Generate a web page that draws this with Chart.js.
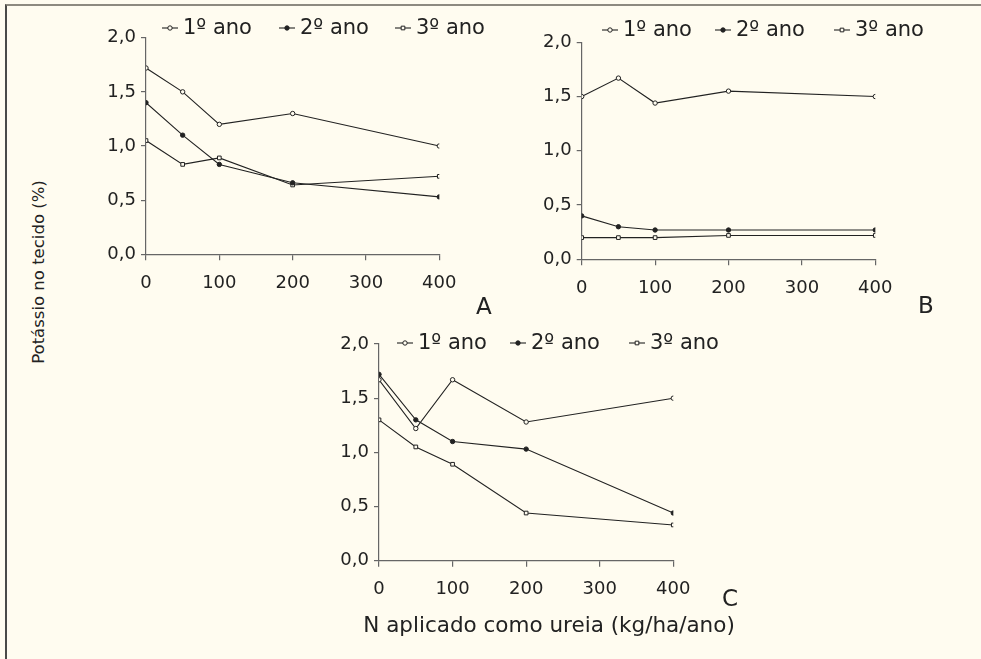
<!DOCTYPE html>
<html>
<head>
<meta charset="utf-8">
<script src="https://cdn.jsdelivr.net/npm/chart.js@4.4.1/dist/chart.umd.min.js"></script>
<style>
  html, body { margin: 0; padding: 0; background: #fffcf0; }
  body { width: 981px; height: 659px; position: relative; overflow: hidden;
         font-family: "DejaVu Sans", sans-serif; color: #222; }
  .frame { position: absolute; left: 5px; top: 4px; width: 1000px; height: 700px;
           border-top: 2px solid #8d8a80; border-left: 2px solid #4a4a48; }
  canvas { position: absolute; }
  .lbl { position: absolute; white-space: nowrap; line-height: 1; }
</style>
</head>
<body>
<div class="frame"></div>
<canvas id="chartA" style="left:90px;top:0px" width="420" height="320"></canvas>
<canvas id="chartB" style="left:520px;top:0px" width="420" height="320"></canvas>
<canvas id="chartC" style="left:310px;top:320px" width="420" height="300"></canvas>

<div class="lbl" style="left:476px;top:295px;font-size:23px">A</div>
<div class="lbl" style="left:918px;top:294px;font-size:23px">B</div>
<div class="lbl" style="left:722px;top:587px;font-size:23px">C</div>
<div class="lbl" style="left:549px;top:625px;font-size:21.5px;transform:translate(-50%,-50%)">N aplicado como ureia (kg/ha/ano)</div>
<div class="lbl" style="left:39px;top:272px;font-size:16.5px;transform:translate(-50%,-50%) rotate(-90deg)">Potássio no tecido (%)</div>

<script>
// doses de N (kg/ha/ano)
const doses = [0, 50, 100, 200, 400];
const seriesNames = ["1º ano", "2º ano", "3º ano"];
const xTicks = [0, 100, 200, 300, 400];
const yTicks = [0, 0.5, 1.0, 1.5, 2.0];

// painel A
const aAno1 = [1.72, 1.50, 1.20, 1.30, 1.00];
const aAno2 = [1.40, 1.10, 0.83, 0.66, 0.53];
const aAno3 = [1.05, 0.83, 0.89, 0.64, 0.72];

// painel B
const bAno1 = [1.50, 1.67, 1.44, 1.55, 1.50];
const bAno2 = [0.40, 0.30, 0.27, 0.27, 0.27];
const bAno3 = [0.20, 0.20, 0.20, 0.22, 0.22];

// painel C
const cAno1 = [1.67, 1.22, 1.67, 1.28, 1.50];
const cAno2 = [1.72, 1.30, 1.10, 1.03, 0.44];
const cAno3 = [1.30, 1.05, 0.89, 0.44, 0.33];

const ink = "#222";
const axisColor = "#666";
const bg = "#fffcf0";
const fontFamily = "'DejaVu Sans', sans-serif";

const markerStyles = [
    { pointStyle: "circle", radius: 2.2, fill: bg },
    { pointStyle: "circle", radius: 2.2, fill: ink },
    { pointStyle: "rect", radius: 2.6, fill: bg }
];

function buildDatasets(values) {
    return values.map((serie, i) => ({
        label: seriesNames[i],
        data: doses.map((d, k) => ({ x: d, y: serie[k] })),
        borderColor: ink,
        borderWidth: 1.1,
        tension: 0,
        pointStyle: markerStyles[i].pointStyle,
        pointRadius: markerStyles[i].radius,
        pointBackgroundColor: markerStyles[i].fill,
        pointBorderColor: ink,
        pointBorderWidth: 1
    }));
}

// legenda desenhada no canvas: traço curto com o marcador no meio
const lineLegend = {
    id: "lineLegend",
    afterDraw(chart, args, opts) {
        const ctx = chart.ctx;
        ctx.save();
        ctx.font = "21px " + fontFamily;
        ctx.textBaseline = "middle";
        ctx.textAlign = "left";
        chart.data.datasets.forEach((ds, i) => {
            const x = opts.xs[i];
            const y = opts.y;
            ctx.strokeStyle = ink;
            ctx.lineWidth = 1.1;
            ctx.beginPath();
            ctx.moveTo(x - 8, y);
            ctx.lineTo(x + 8, y);
            ctx.stroke();
            ctx.fillStyle = ds.pointBackgroundColor;
            ctx.lineWidth = 1;
            Chart.helpers.drawPoint(ctx, {
                pointStyle: ds.pointStyle,
                radius: ds.pointRadius,
                borderWidth: 1
            }, x, y);
            ctx.fillStyle = ink;
            ctx.fillText(ds.label, x + 13, y + 1);
        });
        ctx.restore();
    }
};

const Y_AXIS_W = 50;
const X_AXIS_H = 40;

function makeChart(id, values, area, legend) {
    const canvas = document.getElementById(id);
    const W = canvas.width, H = canvas.height;
    return new Chart(canvas, {
        type: "line",
        data: { datasets: buildDatasets(values) },
        options: {
            responsive: false,
            animation: false,
            events: [],
            layout: {
                padding: {
                    left: area.left - Y_AXIS_W,
                    right: W - area.right,
                    top: area.top,
                    bottom: H - area.bottom - X_AXIS_H
                }
            },
            plugins: {
                legend: { display: false },
                tooltip: { enabled: false },
                lineLegend: legend
            },
            scales: {
                x: {
                    type: "linear",
                    min: 0,
                    max: 400,
                    afterFit(scale) { scale.height = X_AXIS_H; },
                    afterBuildTicks(scale) { scale.ticks = xTicks.map(v => ({ value: v })); },
                    border: { color: axisColor, width: 1.2 },
                    grid: { drawOnChartArea: false, drawTicks: true, tickLength: 6, color: axisColor, lineWidth: 1.2 },
                    ticks: { color: ink, padding: 12, font: { family: fontFamily, size: 18 } }
                },
                y: {
                    min: 0,
                    max: 2,
                    afterFit(scale) { scale.width = Y_AXIS_W; },
                    afterBuildTicks(scale) { scale.ticks = yTicks.map(v => ({ value: v })); },
                    border: { color: axisColor, width: 1.2 },
                    grid: { drawOnChartArea: false, drawTicks: true, tickLength: 5, color: axisColor, lineWidth: 1.2 },
                    ticks: {
                        color: ink,
                        padding: 5,
                        font: { family: fontFamily, size: 18 },
                        callback: v => v.toFixed(1).replace(".", ",")
                    }
                }
            }
        },
        plugins: [lineLegend]
    });
}

makeChart("chartA", [aAno1, aAno2, aAno3],
    { left: 56, right: 349.3, top: 37.7, bottom: 254.3 },
    { y: 28, xs: [80, 197, 313] });

makeChart("chartB", [bAno1, bAno2, bAno3],
    { left: 61.7, right: 355.3, top: 42.3, bottom: 259.3 },
    { y: 30, xs: [90, 203, 322] });

makeChart("chartC", [cAno1, cAno2, cAno3],
    { left: 69, right: 363.3, top: 24, bottom: 240.7 },
    { y: 23, xs: [95, 208, 327] });
</script>
</body>
</html>
